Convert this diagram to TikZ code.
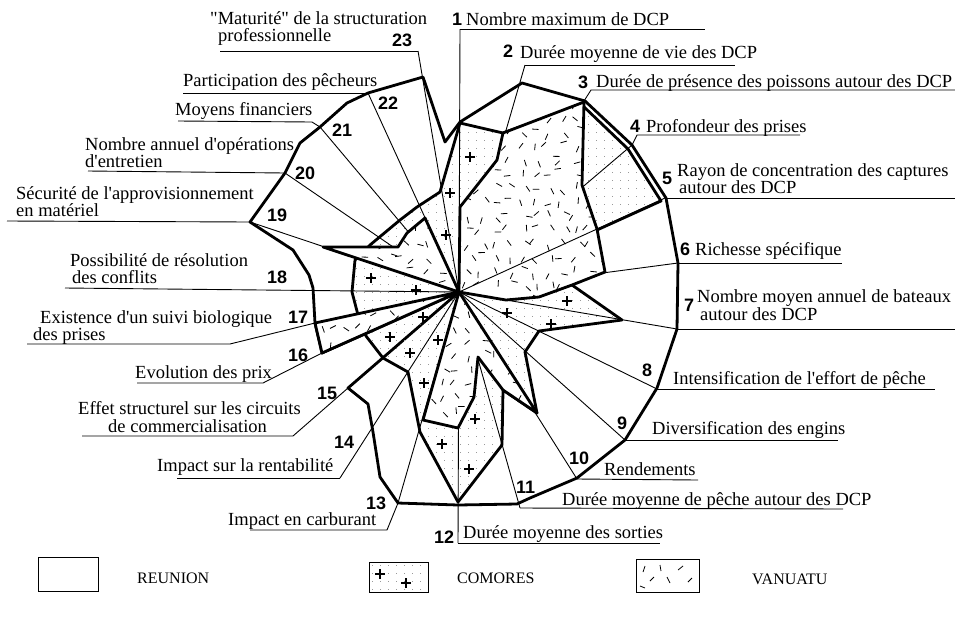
\documentclass[tikz,border=0pt]{standalone}
\usepackage{fontspec}
\setmainfont{Liberation Serif}[Ligatures=TeXOff]
\newfontfamily\numfont{Liberation Sans}
\begin{document}
\newcommand\pathR{(460,122) -- (522,83) -- (585,101) -- (632,145) -- (666,198) -- (678,263) -- (677,329) -- (657,388) -- (625,440) -- (577,478) -- (530,498) -- (517,504) -- (458,505) -- (398,503) -- (380,477) -- (373,432) -- (368,404) -- (348,388) -- (459,292) -- (322,353) -- (315,323) -- (313,288) -- (309,275) -- (293,250) -- (250,222) -- (285,173) -- (300,143) -- (320,127) -- (347,103) -- (368,93) -- (423,77) -- (445,142) -- cycle}
\newcommand\pathC{(460,123) -- (503,133) -- (582,105) -- (628,149) -- (661,201) -- (597,230) -- (562,278) -- (622,320) -- (539,331) -- (525,352) -- (537,413) -- (503,390) -- (502,445) -- (458,502) -- (420,432) -- (408,372) -- (383,358) -- (366,336) -- (358,315) -- (352,292) -- (355,260) -- (370,245) -- (400,220) -- (417,207) -- (440,192) -- cycle}
\newcommand\pathV{(460,207) -- (497,160) -- (503,133) -- (584,102) -- (582,185) -- (597,229) -- (605,272) -- (572,285) -- (539,297) -- (506,300) -- (459,292) -- (537,413) -- (503,390) -- (478,357) -- (474,397) -- (458,428) -- (423,420) -- (459,292) -- (322,353) -- (315,323) -- (459,292) -- (323,247) -- (398,247) -- (407,233) -- (425,218) -- (459,292) -- cycle}
\begin{tikzpicture}[x=1pt,y=-1pt,
  thickline/.style={line width=2.8pt, line join=round},
  thinline/.style={line width=0.9pt},
  lbl/.style={anchor=base west, inner sep=0pt, font=\fontsize{18.5}{18.5}\selectfont},
  num/.style={anchor=base west, inner sep=0pt, font=\numfont\bfseries\fontsize{18}{18}\selectfont},
  leg/.style={anchor=base west, inner sep=0pt, font=\fontsize{16}{16}\selectfont},
  plusmark/.style={line width=1.3pt},
  dashmark/.style={line width=0.8pt},
  dotfill/.style={fill=black!40}]
\useasboundingbox (0,0) rectangle (955,619);
\fill[white] (0,0) rectangle (955,619);
% centre and axis ends
\coordinate (O) at (459,292);
\coordinate (E1) at (460,29);   \coordinate (E2) at (525,65);   \coordinate (E3) at (584,101);
\coordinate (E4) at (632,145);  \coordinate (E5) at (665,198);  \coordinate (E6) at (678,263);
\coordinate (E7) at (677,329);  \coordinate (E8) at (657,389);  \coordinate (E9) at (625,440);
\coordinate (E10) at (577,479); \coordinate (E11) at (520,508); \coordinate (E12) at (458,543);
\coordinate (E13) at (398,503); \coordinate (E14) at (340,478); \coordinate (E15) at (348,388);
\coordinate (E16) at (322,353); \coordinate (E17) at (315,323); \coordinate (E18) at (65,288);
\coordinate (E19) at (250,222); \coordinate (E20) at (285,173); \coordinate (E21) at (320,127);
\coordinate (E22) at (368,93);  \coordinate (E23) at (418,51);
% Reunion outline
\draw[thickline] \pathR;
% Comores fill: dots
\begin{scope}
  \clip \pathC;
  \foreach \x in {340,348,...,670} \foreach \y in {100,108,...,505}
    \path[dotfill] (\x,\y) rectangle ++(1.1,1.1);
\end{scope}
\foreach \p in {(470,157),(450,193),(446,235),(371,278),(416,290),(423,317),(390,337),(410,353),(438,340),(424,383),(567,301),(507,313),(551,324),(475,419),(442,444),(469,469)}
  \draw[plusmark] \p ++(-5,0) -- ++(10,0) \p ++(0,-5) -- ++(0,10);
\draw[thickline] \pathC;
% axes
\foreach \k in {1,...,23} \draw[thinline] (O) -- (E\k);
% Vanuatu
\fill[white] \pathV;
\begin{scope}
  \clip \pathV;
  \pgfmathsetseed{42}
  \foreach \i in {0,...,22} \foreach \j in {0,...,24} {
    \pgfmathsetmacro\px{316+\i*13.5+rnd*8}
    \pgfmathsetmacro\py{98+\j*14+rnd*8}
    \pgfmathsetmacro\pa{rnd*180}
    \draw[dashmark] (\px,\py) -- ++(\pa:6.5);
  }
\end{scope}
\draw[thinline] (O) -- (597,229);
\draw[thickline] \pathV;
% leaders
\draw[thinline] (E1) -- (705,29);
\draw[thinline] (E2) -- (735,65);
\draw[thinline] (E3) -- (591,90) -- (955,90);
\draw[thinline] (E4) -- (637,135) -- (800,135);
\draw[thinline] (E5) -- (955,198);
\draw[thinline] (E6) -- (842,263);
\draw[thinline] (E7) -- (955,329);
\draw[thinline] (E8) -- (935,389);
\draw[thinline] (E9) -- (838,440);
\draw[thinline] (E10) -- (698,480);
\draw[thinline] (E11) -- (843,509);
\draw[thinline] (E12) -- (660,543);
\draw[thinline] (E13) -- (387,530) -- (250,530);
\draw[thinline] (E14) -- (177,478);
\draw[thinline] (E15) -- (293,436) -- (82,436);
\draw[thinline] (E16) -- (263,383) -- (137,383);
\draw[thinline] (E17) -- (230,344) -- (27,344);
\draw[thinline] (E19) -- (7,221);
\draw[thinline] (E20) -- (88,171);
\draw[thinline] (E21) -- (312,122) -- (178,121);
\draw[thinline] (E22) -- (183,93);
\draw[thinline] (E23) -- (220,51);
% numbers
\node[num] (n1) at (452,25) {1};
\node[num] (n2) at (503,57) {2};
\node[num] (n3) at (578,88) {3};
\node[num] (n4) at (630,132) {4};
\node[num] (n5) at (662,184) {5};
\node[num] (n6) at (680,255) {6};
\node[num] (n7) at (684,311) {7};
\node[num] (n8) at (642,376) {8};
\node[num] (n9) at (617,429) {9};
\node[num] (n10) at (569,464) {10};
\node[num] (n11) at (516,493) {11};
\node[num] (n12) at (434,543) {12};
\node[num] (n13) at (366,509) {13};
\node[num] (n14) at (334,448) {14};
\node[num] (n15) at (317,399) {15};
\node[num] (n16) at (288,361) {16};
\node[num] (n17) at (288,323) {17};
\node[num] (n18) at (267,283) {18};
\node[num] (n19) at (267,221) {19};
\node[num] (n20) at (295,179) {20};
\node[num] (n21) at (332,136) {21};
\node[num] (n22) at (378,109) {22};
\node[num] (n23) at (392,46) {23};
% labels
\node[lbl] (t1) at (466,25) {Nombre maximum de DCP};
\node[lbl] (t2) at (520,58) {Durée moyenne de vie des DCP};
\node[lbl] (t3) at (596,87) {Durée de présence des poissons autour des DCP};
\node[lbl] (t4) at (646,132) {Profondeur des prises};
\node[lbl] (t5a) at (677,176) {Rayon de concentration des captures};
\node[lbl] (t5b) at (679,193) {autour des DCP};
\node[lbl] (t6) at (695,255) {Richesse spécifique};
\node[lbl] (t7a) at (697,302) {Nombre moyen annuel de bateaux};
\node[lbl] (t7b) at (700,320) {autour des DCP};
\node[lbl] (t8) at (673,384) {Intensification de l'effort de pêche};
\node[lbl] (t9) at (652,434) {Diversification des engins};
\node[lbl] (t10) at (604,475) {Rendements};
\node[lbl] (t11) at (562,505) {Durée moyenne de pêche autour des DCP};
\node[lbl] (t12) at (463,538) {Durée moyenne des sorties};
\node[lbl] (t13) at (228,525) {Impact en carburant};
\node[lbl] (t14) at (157,471) {Impact sur la rentabilité};
\node[lbl] (t15a) at (78,414) {Effet structurel sur les circuits};
\node[lbl] (t15b) at (108,432) {de commercialisation};
\node[lbl] (t16) at (135,378) {Evolution des prix};
\node[lbl] (t17a) at (40,323) {Existence d'un suivi biologique};
\node[lbl] (t17b) at (33,340) {des prises};
\node[lbl] (t18a) at (70,266) {Possibilité de résolution};
\node[lbl] (t18b) at (72,283) {des conflits};
\node[lbl] (t19a) at (16,199) {Sécurité de l'approvisionnement};
\node[lbl] (t19b) at (16,216) {en matériel};
\node[lbl] (t20a) at (85,150) {Nombre annuel d'opérations};
\node[lbl] (t20b) at (85,167) {d'entretien};
\node[lbl] (t21) at (175,115) {Moyens financiers};
\node[lbl] (t22) at (183,86) {Participation des pêcheurs};
\node[lbl] (t23a) at (210,24) {"Maturité" de la structuration};
\node[lbl] (t23b) at (218,41) {professionnelle};
% legend
\draw[thinline] (38,557) rectangle (98,591);
\node[leg] (l1) at (137,583) {REUNION};
\begin{scope}
  \clip (369,562) rectangle (428,592);
  \foreach \x in {372,380,...,428} \foreach \y in {565,573,...,592}
    \path[dotfill] (\x,\y) rectangle ++(1.1,1.1);
\end{scope}
\draw[thinline] (369,562) rectangle (428,592);
\draw[plusmark] (375,574) -- (385,574) (380,569) -- (380,579);
\draw[plusmark] (401,583) -- (411,583) (406,578) -- (406,588);
\node[leg] (l2) at (457,583) {COMORES};
\draw[thinline] (636,559) rectangle (699,592);
\draw[dashmark] (645,566) -- (643,572) (660,565) -- (661,571) (678,570) -- (683,566)
  (650,581) -- (654,577) (667,577) -- (670,583) (688,582) -- (692,578) (640,586) -- (645,588);
\node[leg] (l3) at (752,584) {VANUATU};
\end{tikzpicture}
\end{document}
